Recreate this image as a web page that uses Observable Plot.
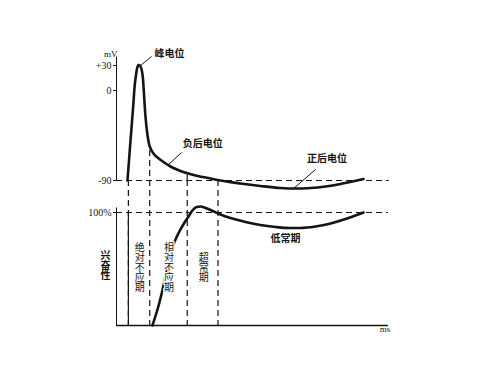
<!DOCTYPE html>
<html><head><meta charset="utf-8">
<script src="https://cdn.jsdelivr.net/npm/d3@7"></script>
<script src="https://cdn.jsdelivr.net/npm/@observablehq/plot@0.6"></script>
<style>
body{margin:0;background:#fff;}
#chart{position:relative;width:500px;height:375px;background:#fff;}
#chart svg{position:absolute;left:0;top:0;}
</style></head><body><div id="chart"></div>
<script>
// ---- data (schematic time units, 0..100 ≈ ms axis) ----
// membrane potential (mV) of the action potential
const apTime = [4.07, 5.19, 6.15, 6.74, 7.3, 7.7, 8.2, 8.8, 9.3, 9.8, 10.1, 10.7, 11.5, 12.1, 12.8, 13.7, 15.2, 17.4, 20, 23.7, 29.3, 34.8, 38.5, 45.9, 53.3, 60.7, 66.3, 71.9, 77.4, 83, 87.4, 91.5];
const apVolt = [-90, -50, -17, 6, 20.4, 27.6, 30.6, 29.4, 25.2, 14.4, 0, -25, -45, -54, -59, -63, -67, -71.5, -76, -80.5, -85, -88, -90, -93, -95.5, -97.5, -98, -97.5, -96, -93.5, -91, -88.5];
// excitability (% of normal)
const excTime = [13.3, 15.6, 17, 18.5, 19.6, 20.7, 22.2, 23.7, 25.2, 26.7, 28.1, 29.6, 31.1, 33, 35.6, 38.5, 42.2, 47.8, 53.3, 58.9, 64.4, 68.1, 73.7, 79.3, 84.8, 88.5, 91.5];
const excValue = [0, 17.7, 31, 46.9, 58.4, 69, 77.9, 85, 91.2, 96.5, 101.8, 104.9, 105.3, 104, 101.3, 98.2, 95.1, 91.6, 88.9, 87.2, 86.3, 86.3, 87.6, 90.3, 94.2, 97.3, 100];
// axis ticks
const mvTicks = [-90, 0, 30];
const mvTickLabels = ["-90", "0", "+30"];
const excTicks = [100];
const excTickLabels = ["100%"];
// phase boundaries (time) and the potential where each dashed line starts
const phaseBounds = [4.4, 12.3, 26.2, 37.6];
const phaseTopVolt = [-90, -60, -85, -90];
const restingMv = -90;
const normalExc = 100;
// phase names
const phaseLabels = ["绝对不应期", "相对不应期", "超常期"];
const phaseLabelTime = [8.6, 19.4, 32.3];
const phaseLabelHalo = [false, true, false];
// potential annotations
const potLabels = ["峰电位", "负后电位", "正后电位"];
const potLabelTime = [19.6, 31.9, 78];
const potLabelMv = [44.4, -53, -68];
const leaderFromT = [13, 24.1, 73.7], leaderFromV = [40.8, -62, -79];
const leaderToT = [8.9, 18.9, 65.6], leaderToV = [30, -75, -98];

const CJK = "'Noto Sans CJK SC', sans-serif";
const INK = "#141414";
const common = {
  width: 500, height: 375,
  marginLeft: 116, marginRight: 114, marginTop: 40, marginBottom: 50,
  x: {domain: [0, 100], axis: null},
  style: {fontFamily: "'Liberation Serif', serif", fontSize: "10px", background: "transparent", color: INK, overflow: "visible"}
};
const stack = s => s.split("").join("\n");   // one character per line

const ap = apTime.map((t, i) => ({t, v: apVolt[i]}));
const exc = excTime.map((t, i) => ({t, e: excValue[i]}));
const phases = phaseBounds.map((t, i) => ({t, v: phaseTopVolt[i]}));
const pot = potLabels.map((s, i) => ({s, t: potLabelTime[i], v: potLabelMv[i]}));
const leaders = leaderFromT.map((t, i) => ({t1: t, v1: leaderFromV[i], t2: leaderToT[i], v2: leaderToV[i]}));
const phaseText = phaseLabels.map((s, i) => ({s: stack(s), t: phaseLabelTime[i], halo: phaseLabelHalo[i]}));

// the original axis is schematic: the span 0..+30 mV is drawn compressed
const squeezePositive = v => (v > 0 ? v * 25 / 30 : v);

const topPlot = Plot.plot({
  ...common,
  y: {transform: squeezePositive, domain: [-90, 25], range: [180, 65], axis: null},
  marks: [
    Plot.ruleX([0], {y1: 40, y2: restingMv, stroke: INK, strokeWidth: 1}),
    Plot.axisY({ticks: mvTicks.map(squeezePositive), tickFormat: (d, i) => mvTickLabels[i], tickSize: 3, tickPadding: 2, anchor: "left", label: null, stroke: INK}),
    Plot.ruleY([restingMv], {x1: 0, x2: 101, stroke: INK, strokeWidth: 1.2, strokeDasharray: "6,4"}),
    Plot.ruleX(phases, {x: "t", y1: "v", y2: () => restingMv, stroke: INK, strokeWidth: 1.2, strokeDasharray: "6,4"}),
    Plot.line(ap, {x: "t", y: "v", curve: "monotone-x", stroke: INK, strokeWidth: 2.6}),
    Plot.link(leaders, {x1: "t1", y1: "v1", x2: "t2", y2: "v2", stroke: INK, strokeWidth: 1}),
    Plot.text(pot, {x: "t", y: "v", text: "s", fontFamily: CJK, fontSize: 10, fontWeight: "bold", fill: INK}),
    Plot.text(["mV"], {x: 0.4, y: 43.2, text: d => d, textAnchor: "end", fontSize: 9, fill: INK})
  ]
});

// bottom panel: its frame starts at the resting-potential line so that the
// phase boundaries run from that line down to the time axis
const bottomPlot = Plot.plot({
  ...common,
  marginTop: 180,
  y: {domain: [0, 100], range: [325, 212], axis: null},
  marks: [
    Plot.ruleX([0], {y1: 0, y2: 104, stroke: INK, strokeWidth: 1}),
    Plot.axisY({ticks: excTicks, tickFormat: (d, i) => excTickLabels[i], tickSize: 3, tickPadding: 2, anchor: "left", label: null, stroke: INK}),
    Plot.ruleY([0], {x1: 0, x2: 100.7, stroke: INK, strokeWidth: 1.3}),
    Plot.ruleY([normalExc], {x1: 0, x2: 100.7, stroke: INK, strokeWidth: 1.2, strokeDasharray: "6,4"}),
    Plot.ruleX(phaseBounds, {x: d => d, stroke: INK, strokeWidth: 1.2, strokeDasharray: "6,4"}),
    Plot.ruleX([phaseBounds[0]], {y1: 0, y2: normalExc, stroke: INK, strokeWidth: 1.2}),
    Plot.line(exc, {x: "t", y: "e", curve: "monotone-x", stroke: INK, strokeWidth: 2.6}),
    Plot.text(phaseText.filter(d => d.halo), {x: "t", y: 51, text: "s", lineAnchor: "middle", lineHeight: 1.0, fontFamily: CJK, fontSize: 10, fill: INK, stroke: "white", strokeWidth: 2.5}),
    Plot.text(phaseText.filter(d => !d.halo), {x: "t", y: 51, text: "s", lineAnchor: "middle", lineHeight: 1.0, fontFamily: CJK, fontSize: 10, fill: INK}),
    Plot.text(["兴奋性"], {x: -4.1, y: 53, text: d => stack(d), lineAnchor: "middle", lineHeight: 1.0, fontFamily: CJK, fontSize: 10, fontWeight: "bold", fill: INK}),
    Plot.text(["低常期"], {x: 62.6, y: 77, text: d => d, fontFamily: CJK, fontSize: 10, fontWeight: "bold", fill: INK}),
    Plot.text(["ms"], {x: 99.4, y: -3.5, text: d => d, fontSize: 9, fill: INK})
  ]
});

const chart = document.getElementById("chart");
chart.appendChild(topPlot);
chart.appendChild(bottomPlot);
</script>
</body></html>
